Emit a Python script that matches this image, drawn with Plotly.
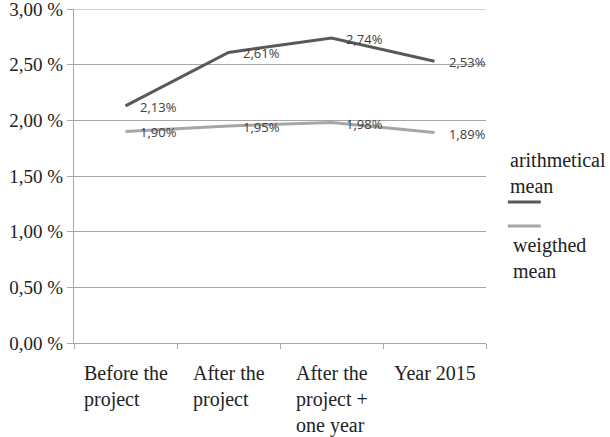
import plotly.graph_objects as go

# Categories and series
categories = ["Before the project", "After the project", "After the project + one year", "Year 2015"]
category_labels = ["Before the<br>project", "After the<br>project", "After the<br>project +<br>one year", "Year 2015"]
arithmetical_mean = [2.13, 2.61, 2.74, 2.53]
weighted_mean = [1.90, 1.95, 1.98, 1.89]
y_ticks = [0.0, 0.5, 1.0, 1.5, 2.0, 2.5, 3.0]
y_tick_labels = ["0,00 %", "0,50 %", "1,00 %", "1,50 %", "2,00 %", "2,50 %", "3,00 %"]

DARK = "#595959"
LIGHT = "#a6a6a6"
GRID = "#a6a6a6"
SERIF = "Liberation Serif, Times New Roman, serif"
SANS = "Open Sans, Arial, sans-serif"

fig = go.Figure()
fig.add_trace(go.Scatter(x=categories, y=arithmetical_mean, mode="lines",
                         line=dict(color=DARK, width=3), name="arithmetical mean",
                         showlegend=False))
fig.add_trace(go.Scatter(x=categories, y=weighted_mean, mode="lines",
                         line=dict(color=LIGHT, width=3), name="weigthed mean",
                         showlegend=False))

annotations = []
# value labels to the right of each point
for series in (arithmetical_mean, weighted_mean):
    for c, v in zip(categories, series):
        annotations.append(dict(x=c, y=v, xref="x", yref="y", text=f"{v:.2f}%".replace(".", ","),
                                showarrow=False, xanchor="left", yanchor="middle",
                                xshift=12, yshift=-1,
                                font=dict(family=SANS, size=13, color="#404040")))

# category labels, left-aligned within their block
for c, lab in zip(categories, category_labels):
    annotations.append(dict(x=c, y=0, xref="x", yref="paper", text=lab, showarrow=False,
                            xanchor="center", yanchor="top", align="left", yshift=-17,
                            font=dict(family=SERIF, size=20, color="#222222")))

# legend entries
annotations.append(dict(x=1.053, y=0.5075, xref="paper", yref="paper",
                        text="arithmetical<br>mean", showarrow=False, xanchor="left",
                        yanchor="middle", align="left",
                        font=dict(family=SERIF, size=20, color="#222222")))
annotations.append(dict(x=1.06, y=0.2545, xref="paper", yref="paper",
                        text="weigthed<br>mean", showarrow=False, xanchor="left",
                        yanchor="middle", align="left",
                        font=dict(family=SERIF, size=20, color="#222222")))

shapes = [
    dict(type="line", xref="paper", yref="paper", x0=1.053, x1=1.133, y0=0.422, y1=0.422,
         line=dict(color=DARK, width=3)),
    dict(type="line", xref="paper", yref="paper", x0=1.053, x1=1.133, y0=0.350, y1=0.350,
         line=dict(color=LIGHT, width=3)),
    dict(type="line", xref="paper", yref="y", x0=0, x1=1, y0=3, y1=3,
         line=dict(color=GRID, width=1)),
]

fig.update_layout(
    width=610, height=437,
    margin=dict(l=74, r=124, t=9, b=94),
    plot_bgcolor="white", paper_bgcolor="white",
    annotations=annotations, shapes=shapes,
    xaxis=dict(type="category", showticklabels=False, showgrid=False,
               showline=True, linecolor=GRID, linewidth=1,
               ticks="outside", tickson="boundaries", ticklen=5, tickcolor=GRID,
               range=[-0.5, 3.5], fixedrange=True, automargin=False),
    yaxis=dict(range=[0, 3], tickvals=y_ticks, ticktext=y_tick_labels,
               showgrid=True, gridcolor=GRID, gridwidth=1, zeroline=False,
               showline=True, linecolor=GRID, linewidth=1,
               ticks="outside", ticklen=6, tickcolor=GRID,
               ticklabeloverflow="allow", automargin=False,
               tickfont=dict(family=SERIF, size=19, color="#222222"),
               fixedrange=True),
)

fig.write_html("out.html")
